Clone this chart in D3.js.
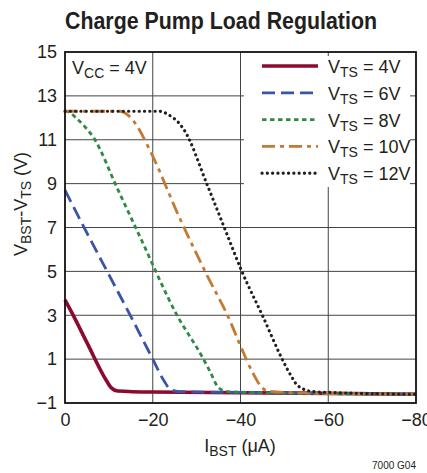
<!DOCTYPE html>
<html><head><meta charset="utf-8">
<script src="https://cdn.jsdelivr.net/npm/d3@7"></script>
<style>
html,body{margin:0;padding:0;background:#fff;}
svg text{font-family:"Liberation Sans Narrow","Liberation Sans",Arial,sans-serif;fill:#231f20;}
</style></head>
<body>
<svg id="chart" width="427" height="473"></svg>
<script>
// ---- data ----
const xTicks = [0, -20, -40, -60, -80];
const yTicks = [-1, 1, 3, 5, 7, 9, 11, 13, 15];
const seriesNames = ["4V", "6V", "8V", "10V", "12V"];
const vts4 = [[0,3.7],[-2,2.95],[-5,1.75],[-9.5,0],[-10.5,-0.3],[-12,-0.45],[-20,-0.5],[-40,-0.53],[-60,-0.56],[-80,-0.6]];
const vts6 = [[0,8.7],[-5,6.75],[-10,4.85],[-15,2.95],[-20,1.0],[-22.6,0],[-24,-0.38],[-26,-0.48],[-40,-0.52],[-80,-0.6]];
const vts8 = [[0,12.3],[-1,12.25],[-2.5,12.0],[-4.5,11.6],[-6.5,11.1],[-12,8.75],[-17.5,6.4],[-25.4,3.05],[-31,1.2],[-33,0.46],[-35,-0.3],[-37,-0.48],[-45,-0.53],[-80,-0.6]];
const vts10 = [[0,12.3],[-12.5,12.3],[-14.5,12.1],[-16,11.75],[-19.4,10.5],[-26.2,7.4],[-32.3,4.85],[-37.6,2.75],[-40,1.6],[-43,0.3],[-44.5,-0.2],[-46,-0.45],[-50,-0.52],[-80,-0.6]];
const vts12 = [[0,12.3],[-21.5,12.3],[-23.9,12.1],[-25.8,11.8],[-27.3,11.4],[-32.3,9.0],[-36.8,6.75],[-40.2,5.05],[-45.2,2.9],[-49.7,0.92],[-51.5,0.25],[-53.1,-0.22],[-56.5,-0.48],[-62,-0.53],[-80,-0.6]];
const seriesData = [vts4, vts6, vts8, vts10, vts12];
const colors = ["#8c0a2e", "#3b54a5", "#2f8a47", "#c27a34", "#231f20"];

// ---- layout ----
const L = 65, R = 416, T = 52, B = 403;
const svg = d3.select("#chart");
const x = d3.scaleLinear().domain([0, -80]).range([L, R]);
const y = d3.scaleLinear().domain([-1, 15]).range([B, T]);
const fmt = d => (d < 0 ? "\u2212" + Math.abs(d) : String(d));

// title
svg.append("text").attr("x", 221).attr("y", 29).attr("text-anchor", "middle")
  .attr("textLength", 312).attr("lengthAdjust", "spacingAndGlyphs")
  .style("font-size", "23px").style("font-weight", "bold").text("Charge Pump Load Regulation");

// grid
const gridG = svg.append("g");
gridG.selectAll("line.v").data(xTicks.slice(1, -1)).join("line")
  .attr("x1", d => x(d)).attr("x2", d => x(d)).attr("y1", T).attr("y2", B)
  .attr("stroke", "#444").attr("stroke-width", 1);
gridG.selectAll("line.h").data(yTicks.slice(1, -1)).join("line")
  .attr("x1", L).attr("x2", R).attr("y1", d => y(d)).attr("y2", d => y(d))
  .attr("stroke", "#444").attr("stroke-width", 1);

// axes (tick labels)
const xAxis = d3.axisBottom(x).tickValues(xTicks).tickSize(0).tickPadding(10).tickFormat(fmt);
const gx = svg.append("g").attr("transform", `translate(0,${B})`).call(xAxis);
gx.select(".domain").remove();
gx.selectAll("text").style("font-size", "18px").attr("fill", "#231f20");
const yAxis = d3.axisLeft(y).tickValues(yTicks).tickSize(0).tickPadding(8).tickFormat(fmt);
const gy = svg.append("g").attr("transform", `translate(${L},0)`).call(yAxis);
gy.select(".domain").remove();
gy.selectAll("text").style("font-size", "18px").attr("fill", "#231f20");

// legend background (covers grid)
svg.append("rect").attr("x", 244).attr("y", 56).attr("width", 166).attr("height", 131).attr("fill", "#fff");

// curves
const line = d3.line().x(d => x(d[0])).y(d => y(d[1])).curve(d3.curveMonotoneX);
const dashes = [null, "13,6", "4.5,3.5", "13,5,4,5", "0.1,5.2"];
const widths = [3.6, 2.8, 2.8, 2.8, 3.2];
svg.append("g").selectAll("path").data(seriesData).join("path")
  .attr("d", line).attr("fill", "none")
  .attr("stroke", (d, i) => colors[i]).attr("stroke-width", (d, i) => widths[i])
  .attr("stroke-dasharray", (d, i) => dashes[i])
  .attr("stroke-linecap", (d, i) => i === 4 ? "round" : "butt")
  .attr("stroke-linejoin", "round");

// frame
svg.append("rect").attr("x", L).attr("y", T).attr("width", R - L).attr("height", B - T)
  .attr("fill", "none").attr("stroke", "#111").attr("stroke-width", 1.8);

// legend
const lg = svg.append("g").selectAll("g").data(seriesNames).join("g")
  .attr("transform", (d, i) => `translate(0,${66 + i * 26.8})`);
lg.append("line").attr("x1", 262).attr("x2", 318).attr("y1", 0).attr("y2", 0)
  .attr("stroke", (d, i) => colors[i]).attr("stroke-width", (d, i) => widths[i])
  .attr("stroke-dasharray", (d, i) => dashes[i])
  .attr("stroke-linecap", (d, i) => i === 4 ? "round" : "butt");
const lt = lg.append("text").attr("x", 328).attr("y", 7).style("font-size", "18px");
lt.append("tspan").text("V");
lt.append("tspan").attr("dy", 4).style("font-size", "14px").text("TS");
lt.append("tspan").attr("dy", -4).text(d => " = " + d);

// VCC label
const vc = svg.append("text").attr("x", 72).attr("y", 74).style("font-size", "18px");
vc.append("tspan").text("V");
vc.append("tspan").attr("dy", 4).style("font-size", "14px").text("CC");
vc.append("tspan").attr("dy", -4).text(" = 4V");

// x title
const xt = svg.append("text").attr("x", 240).attr("y", 452).attr("text-anchor", "middle").style("font-size", "18px");
xt.append("tspan").text("I");
xt.append("tspan").attr("dy", 4).style("font-size", "14px").text("BST");
xt.append("tspan").attr("dy", -4).text(" (\u03bcA)");

// y title
const yt = svg.append("text").attr("transform", "translate(27,204) rotate(-90)").attr("text-anchor", "middle").style("font-size", "18px");
yt.append("tspan").text("V");
yt.append("tspan").attr("dy", 4).style("font-size", "14px").text("BST");
yt.append("tspan").attr("dy", -4).text("-V");
yt.append("tspan").attr("dy", 4).style("font-size", "14px").text("TS");
yt.append("tspan").attr("dy", -4).text(" (V)");

// footnote
svg.append("text").attr("x", 416).attr("y", 469).attr("text-anchor", "end").style("font-size", "10px").text("7000 G04");
</script>
</body></html>
